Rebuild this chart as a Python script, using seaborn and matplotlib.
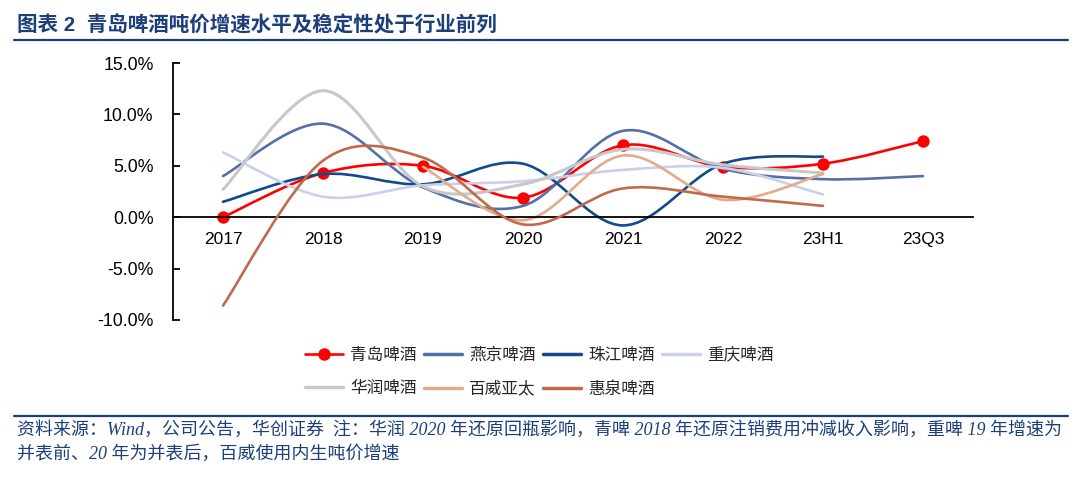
import numpy as np
import pandas as pd
import matplotlib
matplotlib.use('Agg')
import matplotlib.pyplot as plt
import seaborn as sns
from matplotlib.path import Path
from matplotlib.patches import PathPatch
from matplotlib.lines import Line2D
from matplotlib.ticker import PercentFormatter, FixedLocator

nan = np.nan

# Categories and series (ton-price growth, %)
periods = ['2017', '2018', '2019', '2020', '2021', '2022', '23H1', '23Q3']
tsingtao = [0.0, 4.3, 5.0, 1.9, 7.0, 4.9, 5.2, 7.4]
yanjing = [4.0, 9.1, 2.9, 1.1, 8.4, 4.7, 3.7, 4.0]
zhujiang = [1.5, 4.2, 3.2, 5.2, -0.8, 5.2, 5.9, nan]
chongqing = [6.3, 2.0, 3.1, 3.5, 4.6, 4.8, 2.2, nan]
huarun = [2.7, 12.3, 3.0, 3.2, 6.6, 5.1, 4.3, nan]
budweiser = [nan, nan, 4.9, -0.3, 6.0, 1.7, 4.2, nan]
huiquan = [-8.6, 5.5, 5.8, -0.7, 2.8, 2.0, 1.1, nan]

names = ['青岛啤酒', '燕京啤酒', '珠江啤酒', '重庆啤酒', '华润啤酒', '百威亚太', '惠泉啤酒']
series = [tsingtao, yanjing, zhujiang, chongqing, huarun, budweiser, huiquan]
colors = ['#ff0000', '#5470a8', '#0f4c89', '#c9d1ea', '#c8c8c8', '#e2ab8b', '#c2694b']

title_blue = '#1c3f7c'

df = pd.DataFrame({'period': periods})
for n, s in zip(names, series):
    df[n] = s
df['pos'] = np.arange(len(periods))


def smooth_path(xs, ys):
    # Excel-style smoothed line: cubic Bezier through the points
    pts = np.column_stack([xs, ys])
    n = len(pts)
    verts = [pts[0]]
    codes = [Path.MOVETO]
    for i in range(n - 1):
        p0 = pts[max(i - 1, 0)]
        p1 = pts[i]
        p2 = pts[i + 1]
        p3 = pts[min(i + 2, n - 1)]
        c1 = p1 + (p2 - p0) / 6
        c2 = p2 - (p3 - p1) / 6
        verts += [c1, c2, p2]
        codes += [Path.CURVE4] * 3
    return Path(verts, codes)


sns.set_theme(style='white')
plt.rcParams['font.family'] = ['Liberation Sans', 'Noto Sans CJK SC', 'DejaVu Sans']
plt.rcParams['axes.unicode_minus'] = False

fig = plt.figure(figsize=(10.79, 4.79), dpi=100)
ax = fig.add_axes([173 / 1079, 1 - 320 / 479, 800 / 1079, 257 / 479])

for i, (n, c) in enumerate(zip(names, colors)):
    sub = df[['pos', n]].dropna()
    lw = 2.2 if n == '华润啤酒' else 1.9
    patch = PathPatch(smooth_path(sub['pos'].values, sub[n].values),
                      facecolor='none', edgecolor=c, lw=lw, zorder=2 + i * 0.1,
                      capstyle='round', joinstyle='round')
    ax.add_patch(patch)

sns.scatterplot(data=df, x='pos', y='青岛啤酒', color='#ff0000', s=80,
                edgecolor='#ff0000', linewidth=0, ax=ax, zorder=2.05)

ax.set_xlim(-0.5, len(periods) - 0.5)
ax.set_ylim(-10, 15)
ax.yaxis.set_major_locator(FixedLocator([-10, -5, 0, 5, 10, 15]))
ax.yaxis.set_major_formatter(PercentFormatter(decimals=1))
ax.set_xticks(df['pos'])
ax.set_xticklabels(periods)
ax.set_xticks(np.arange(-0.5, len(periods)), minor=True)
ax.set_xlabel('')
ax.set_ylabel('')

for side in ['top', 'right']:
    ax.spines[side].set_visible(False)
ax.spines['bottom'].set_position(('data', 0))
ax.spines['left'].set_color('black')
ax.spines['bottom'].set_color('black')
ax.spines['left'].set_linewidth(1.3)
ax.spines['bottom'].set_linewidth(1.3)

ax.tick_params(axis='x', which='major', length=0, pad=11, labelsize=12.5, colors='black')
ax.tick_params(axis='x', which='minor', direction='in', length=5, width=1.3, color='black')
ax.tick_params(axis='y', which='major', direction='in', length=5, width=1.3,
               labelsize=12.8, colors='black', left=True, pad=14)

# legend, row-major order with two rows
handles = []
for n, c in zip(names, colors):
    if n == '青岛啤酒':
        handles.append(Line2D([], [], color=c, lw=1.9, marker='o', markersize=8))
    else:
        handles.append(Line2D([], [], color=c, lw=2.5))
order = [0, 4, 1, 5, 2, 6, 3]
fig.legend([handles[k] for k in order], [names[k] for k in order],
           loc='upper left', bbox_to_anchor=(305 / 1079, 1 - 347 / 479),
           ncol=4, frameon=False, fontsize=12, handlelength=2.3,
           handletextpad=0.4, columnspacing=0.45, labelspacing=1.1,
           borderpad=0, borderaxespad=0)

# title and footer
fig.text(17 / 1079, 1 - 25 / 479, '图表 2  青岛啤酒吨价增速水平及稳定性处于行业前列',
         fontsize=14.8, weight='bold', color=title_blue, va='center', ha='left')
fig.add_artist(Line2D([14 / 1079, 1068 / 1079], [1 - 40 / 479] * 2,
                      color=title_blue, lw=1.6))
fig.add_artist(Line2D([14 / 1079, 1068 / 1079], [1 - 416 / 479] * 2,
                      color=title_blue, lw=1.6))
foot_font = ['Liberation Serif', 'Noto Sans CJK SC', 'DejaVu Sans']
fig.text(17 / 1079, 1 - 430 / 479,
         '资料来源：Wind，公司公告，华创证券  注：华润 2020 年还原回瓶影响，青啤 2018 年还原注销费用冲减收入影响，重啤 19 年增速为',
         fontsize=12.95, color=title_blue, va='center', ha='left', style='italic',
         family=foot_font)
fig.text(17 / 1079, 1 - 454 / 479, '并表前、20 年为并表后，百威使用内生吨价增速',
         fontsize=12.95, color=title_blue, va='center', ha='left', style='italic',
         family=foot_font)

fig.savefig('out.png', dpi=100)
